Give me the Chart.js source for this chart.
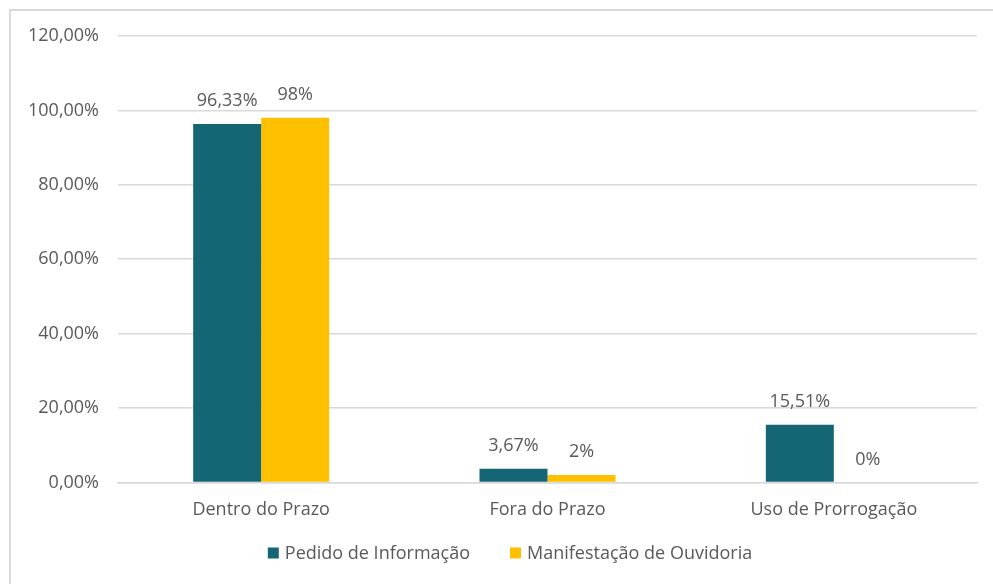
<!DOCTYPE html>
<html>
<head>
<meta charset="utf-8">
<script src="https://cdn.jsdelivr.net/npm/chart.js@4"></script>
<style>
    html, body { margin: 0; padding: 0; background: #fff; }
    #wrap { position: relative; width: 993px; height: 584px; overflow: hidden; }
    #frame {
        position: absolute; left: 9px; top: 9px; width: 1000px; height: 600px;
        border-top: 2px solid #d9d9d9; border-left: 2px solid #d9d9d9;
        pointer-events: none;
    }
    canvas { position: absolute; left: 0; top: 0; }
</style>
</head>
<body>
<div id="wrap">
    <canvas id="chart" width="993" height="584"></canvas>
    <div id="frame"></div>
</div>
<script>
// Dados do gráfico
const categorias = ['Dentro do Prazo', 'Fora do Prazo', 'Uso de Prorrogação'];
const pedidoInformacao = [96.33, 3.67, 15.51];
const manifestacaoOuvidoria = [98, 2, 0];
const rotulosSeries = ['Pedido de Informação', 'Manifestação de Ouvidoria'];

const cores = {
    teal: '#146675',
    gold: '#FFC000',
    texto: '#595959',
    grade: '#d9d9d9'
};

const fonte = '"Open Sans", Lato, sans-serif';
const tamanho = 18;

// Rótulos de dados acima das barras
const rotulosDados = {
    id: 'rotulosDados',
    afterDatasetsDraw(chart) {
        const ctx = chart.ctx;
        ctx.save();
        ctx.font = tamanho + 'px ' + fonte;
        ctx.fillStyle = cores.texto;
        ctx.textAlign = 'center';
        ctx.textBaseline = 'middle';
        chart.data.datasets.forEach((ds, i) => {
            const meta = chart.getDatasetMeta(i);
            meta.data.forEach((bar, j) => {
                const v = ds.data[j];
                const txt = String(v).replace('.', ',') + '%';
                ctx.fillText(txt, bar.x, bar.y - 23);
            });
        });
        ctx.restore();
    }
};

// Legenda desenhada à mão (para controlar espaçamento como no Excel)
const legenda = {
    id: 'legenda',
    afterDraw(chart) {
        const ctx = chart.ctx;
        const caixa = 11, gapTexto = 6, gapItem = 40;
        const centroX = 510, centroY = 553;
        ctx.save();
        ctx.font = tamanho + 'px ' + fonte;
        ctx.textBaseline = 'middle';
        ctx.textAlign = 'left';
        const itens = chart.data.datasets.map(ds => ({
            texto: ds.label,
            cor: ds.backgroundColor,
            w: caixa + gapTexto + ctx.measureText(ds.label).width
        }));
        const total = itens.reduce((s, it) => s + it.w, 0) + gapItem * (itens.length - 1);
        let x = centroX - total / 2;
        itens.forEach(it => {
            ctx.fillStyle = it.cor;
            ctx.fillRect(x, centroY - caixa / 2, caixa, caixa);
            ctx.fillStyle = cores.texto;
            ctx.fillText(it.texto, x + caixa + gapTexto, centroY + 1);
            x += it.w + gapItem;
        });
        ctx.restore();
    }
};

const ctx = document.getElementById('chart').getContext('2d');
new Chart(ctx, {
    type: 'bar',
    data: {
        labels: categorias,
        datasets: [
            {
                label: rotulosSeries[0],
                data: pedidoInformacao,
                backgroundColor: cores.teal,
                categoryPercentage: 0.475,
                barPercentage: 1
            },
            {
                label: rotulosSeries[1],
                data: manifestacaoOuvidoria,
                backgroundColor: cores.gold,
                categoryPercentage: 0.475,
                barPercentage: 1
            }
        ]
    },
    options: {
        responsive: false,
        animation: false,
        layout: {
            padding: { top: 36, right: 16, bottom: 46, left: 0 }
        },
        scales: {
            y: {
                min: 0,
                max: 120,
                afterFit(scale) { scale.width = 118; },
                ticks: {
                    stepSize: 20,
                    padding: 19,
                    color: cores.texto,
                    font: { family: fonte, size: tamanho },
                    callback: v => v.toFixed(2).replace('.', ',') + '%'
                },
                grid: { color: cores.grade, lineWidth: 1.5, drawTicks: false },
                border: { display: false }
            },
            x: {
                ticks: {
                    padding: 17,
                    color: cores.texto,
                    font: { family: fonte, size: tamanho }
                },
                grid: { display: false, drawTicks: false },
                border: { display: true, color: cores.grade, width: 1.5 }
            }
        },
        plugins: {
            legend: { display: false },
            tooltip: { enabled: false }
        }
    },
    plugins: [rotulosDados, legenda]
});
</script>
</body>
</html>
